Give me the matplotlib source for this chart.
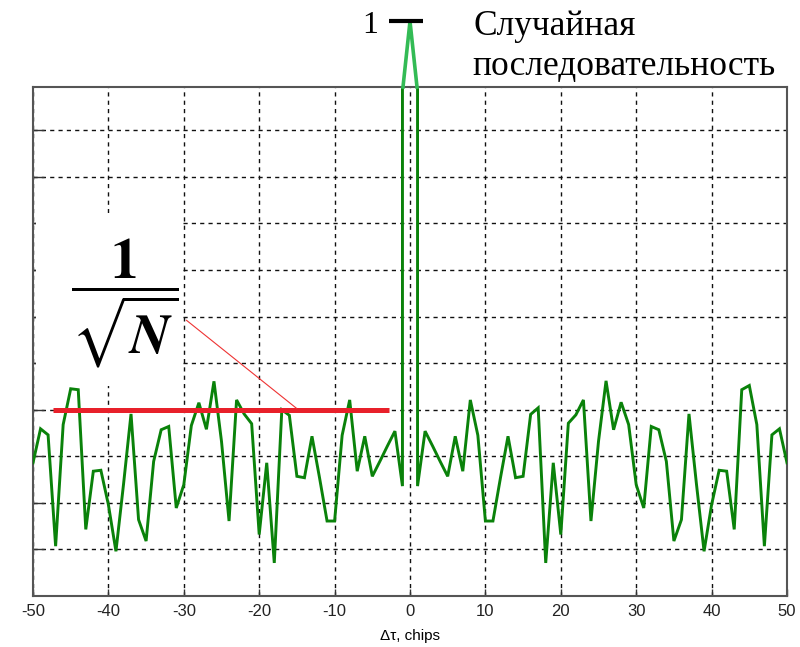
import matplotlib
matplotlib.use("Agg")
import matplotlib.pyplot as plt
from matplotlib.patches import Rectangle
import numpy as np

plt.rcParams['mathtext.fontset'] = 'stix'

# ---- data (values in grid units) ----
lags = list(range(-50, 51))
left_vals = [2.86, 3.59, 3.46, 1.07, 3.68, 4.45, 4.43, 1.43, 2.68, 2.70,
             1.96, 0.96, 2.39, 3.91, 1.64, 1.18, 2.89, 3.57, 3.64, 1.89,
             2.39, 3.66, 4.15, 3.58, 4.61, 3.32, 1.61, 4.21, 3.91, 3.70,
             1.32, 2.86, 0.71, 4.00, 3.88, 2.57, 2.54, 3.43, 2.54, 1.61,
             1.61, 3.45, 4.21, 2.68, 3.43, 2.57, 2.89, 3.22, 3.54, 2.36]
peak_val = 12.34
right_vals = [2.36, 3.54, 3.22, 2.89, 2.57, 3.43, 2.68, 4.21, 3.45, 1.61,
              1.61, 2.54, 3.43, 2.54, 2.57, 3.90, 4.04, 0.71, 2.86, 1.32,
              3.71, 3.89, 4.21, 1.61, 3.32, 4.62, 3.57, 4.16, 3.68, 2.39,
              1.89, 3.64, 3.57, 2.89, 1.18, 1.64, 3.91, 2.39, 0.96, 1.96,
              2.70, 2.68, 1.43, 4.43, 4.52, 3.68, 1.07, 3.46, 3.59, 2.86]
values = left_vals + [peak_val] + right_vals

threshold = 4.0            # 1/sqrt(N) level
threshold_span = [-47.4, -2.85]
xticks = list(range(-50, 51, 10))
ygrid = list(range(1, 11))
ylim = (0, 10.93)

W, H = 800, 647
fig = plt.figure(figsize=(W / 100, H / 100), dpi=100)
ax = fig.add_axes([33 / W, 1 - 596 / H, (787 - 33) / W, (596 - 87) / H])
ax.set_xlim(-50, 50)
ax.set_ylim(*ylim)
ax.set_axisbelow(True)

ax.set_xticks(xticks)
ax.set_xticklabels([str(t) for t in xticks])
ax.set_yticks(ygrid)
ax.set_yticklabels([])
ax.grid(True, color='#111111', linestyle=(0, (3, 3)), linewidth=1.0)
ax.tick_params(axis='y', direction='in', length=8, width=1.0, color='#333333',
               left=True, right=False)
ax.tick_params(axis='x', direction='in', length=5, width=1.0, color='#333333',
               labelsize=12, pad=6, labelcolor='#222222')
for lab in ax.get_xticklabels():
    lab.set_family(['Liberation Sans Narrow', 'Liberation Sans', 'DejaVu Sans'])
for s in ax.spines.values():
    s.set_color('#555555')
    s.set_linewidth(1.5)

ax.set_xlabel('Δτ, chips', fontsize=11,
              family=['Liberation Sans Narrow', 'Liberation Sans', 'DejaVu Sans'],
              labelpad=7)

# white box behind the 1/sqrt(N) label
ax.add_patch(Rectangle((36 / W, 1 - 386 / H), (183 - 36) / W, (386 - 213) / H,
                       transform=fig.transFigure, facecolor='white',
                       edgecolor='none', zorder=1))

# main curve: sidelobes, with vertical flanks at +-1 clipped by the axes
lags_arr = np.array(lags, dtype=float)
vals_arr = np.array(values, dtype=float)
c = lags.index(0)
top_clip = ylim[1] + 0.5
xs = np.concatenate([lags_arr[:c], [-1, 1], lags_arr[c + 1:]])
ys = np.concatenate([vals_arr[:c], [top_clip, top_clip], vals_arr[c + 1:]])
ax.plot(xs, ys, color='#0a820a', linewidth=2.1, zorder=3, solid_joinstyle='miter')

# peak part above the axes
ax.plot([-0.93, 0, 0.93], [ylim[1], vals_arr[c], ylim[1]],
        color='#33bb55', linewidth=2.6, zorder=3, clip_on=False)
# "1" marker
ax.plot([-2.85, 1.66], [peak_val, peak_val], color='black', linewidth=3.0,
        clip_on=False, zorder=4, solid_capstyle='butt')

# threshold line and leader
ax.plot(threshold_span, [threshold, threshold], color='#e8202a', linewidth=3.6,
        zorder=4, solid_capstyle='butt')
ax.plot([-29.64, -15.05], [5.92, 4.03], color='#ee3333', linewidth=0.8, zorder=4)

# texts
serif = ['Liberation Serif', 'DejaVu Serif']
fig.text(378 / W, 1 - 33 / H, '1', fontsize=23, family=serif, ha='right',
         va='baseline')
fig.text(473 / W, 1 - 35 / H, 'Случайная', fontsize=25.5, family=serif,
         ha='left', va='baseline')
fig.text(472 / W, 1 - 75 / H, 'последовательность', fontsize=25.5, family=serif,
         ha='left', va='baseline')
fig.text(125 / W, 1 - 303 / H, r'$\dfrac{\mathbf{1}}{\sqrt{\boldsymbol{N}}}$',
         fontsize=40, ha='center', va='center', zorder=5)

fig.savefig('out.png', dpi=100)
